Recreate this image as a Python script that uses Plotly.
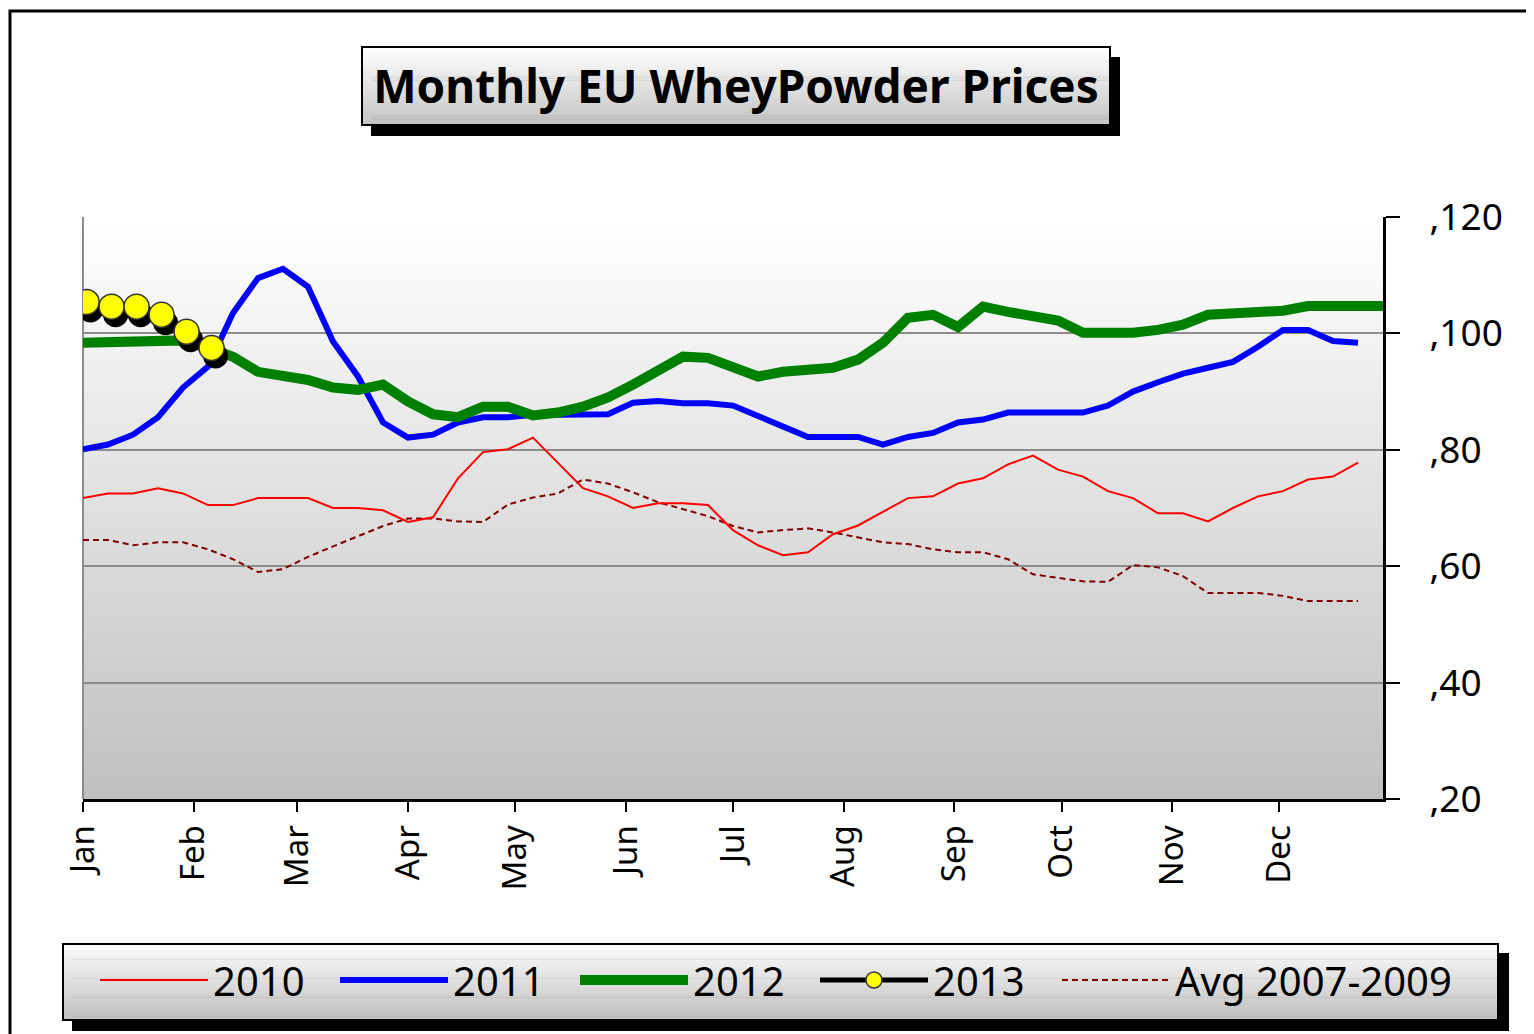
import plotly.graph_objects as go

# ---------------- data ----------------
month_labels = ["Jan", "Feb", "Mar", "Apr", "May", "Jun", "Jul", "Aug", "Sep", "Oct", "Nov", "Dec"]
month_start_day = [0, 31, 60, 91, 121, 152, 182, 213, 244, 274, 305, 335]

week_days_52 = list(range(0, 364, 7))      # 52 weekly observations
week_days_53 = list(range(0, 365, 7))      # 53 weekly observations
days_2013 = [1, 8, 15, 22, 29, 36]

y_tickvals = [20, 40, 60, 80, 100, 120]
y_ticktext = [",20", ",40", ",60", ",80", ",100", ",120"]

v2010 = [71.7, 72.5, 72.5, 73.4, 72.5, 70.5, 70.5, 71.7, 71.7, 71.7, 70.0, 70.0, 69.6, 67.6, 68.4, 75.1, 79.6, 80.1,
         82.1, 77.8, 73.4, 72.0, 70.0, 70.8, 70.8, 70.5, 66.2, 63.6, 61.9, 62.4, 65.5, 67.0, 69.3, 71.7, 72.0,
         74.2, 75.1, 77.5, 79.0, 76.6, 75.4, 72.9, 71.7, 69.1, 69.1, 67.7, 70.0, 72.0, 72.9, 74.9, 75.4, 77.8]
v2011 = [80.1, 80.9, 82.6, 85.6, 90.7, 94.3, 103.5, 109.5, 111.1, 108.0, 98.6, 92.6, 84.7, 82.1, 82.6, 84.7, 85.6, 85.6,
         86.0, 86.1, 86.1, 86.1, 88.1, 88.4, 88.0, 88.0, 87.6, 85.8, 83.8, 82.2, 82.2, 82.2, 80.9, 82.2, 82.9,
         84.7, 85.2, 86.4, 86.4, 86.4, 86.4, 87.6, 90.0, 91.6, 93.1, 94.1, 95.1, 97.7, 100.6, 100.6, 98.7, 98.4]
v2012 = [98.4, 98.4, 98.4, 98.8, 98.8, 97.5, 96.0, 93.4, 92.9, 92.0, 90.7, 90.3, 91.2, 88.3, 86.1, 85.6, 87.4, 87.4,
         85.9, 86.4, 87.4, 89.0, 91.2, 93.4, 96.0, 95.8, 94.1, 92.6, 93.4, 93.8, 94.1, 95.5, 98.4, 102.7, 103.2,
         101.1, 104.6, 103.7, 102.9, 102.2, 100.1, 100.1, 100.1, 100.6, 101.5, 103.2, 103.5, 103.9, 103.9, 104.7,
         104.7, 104.7, 104.7]
v2013 = [105.4, 104.6, 104.6, 103.2, 100.3, 97.5]
avg_2007_2009 = [64.5, 64.5, 63.6, 64.1, 64.1, 62.9, 61.2, 59.0, 59.5, 61.6, 63.4, 65.2, 66.9, 68.2, 68.2, 67.7, 67.6, 70.6,
                 71.8, 72.5, 74.9, 74.2, 72.7, 71.0, 69.8, 68.6, 66.9, 65.8, 66.2, 66.5, 65.8, 65.0, 64.1, 63.8, 62.9,
                 62.4, 62.4, 61.2, 58.6, 58.0, 57.4, 57.3, 60.2, 59.8, 58.3, 55.4, 55.4, 55.4, 54.9, 54.0, 54.0, 54.0]

# ---------------- geometry / style ----------------
OFF = 8                                   # page body margin
W, H = 1534 - OFF, 1034 - OFF
L, R, T, B = 83, 1383, 217, 799          # plot area in screen pixels
X_RANGE = [0, 364]
Y_RANGE = [20, 120]
FONT = "Comic Sans MS, Noto Sans, sans-serif"


def px(xp):
    return (xp - L) / (R - L)


def py(yp):
    return (B - yp) / (B - T)


shapes = []


def grad_rect(x0, y0, x1, y1, top, bot, n=60):
    for i in range(n):
        f = i / (n - 1)
        c = [round(top[j] + (bot[j] - top[j]) * f) for j in range(3)]
        ya = y0 + (y1 - y0) * i / n
        yb = y0 + (y1 - y0) * (i + 1) / n + 0.6
        shapes.append(dict(type="rect", xref="paper", yref="paper", layer="below",
                           x0=px(x0), x1=px(x1), y0=py(ya), y1=py(min(yb, y1)),
                           line=dict(width=0), fillcolor="rgb(%d,%d,%d)" % tuple(c)))


def solid_rect(x0, y0, x1, y1, fill):
    shapes.append(dict(type="rect", xref="paper", yref="paper", layer="below",
                       x0=px(x0), x1=px(x1), y0=py(y0), y1=py(y1),
                       line=dict(width=0), fillcolor=fill))


def frame(x0, y0, x1, y1, w):
    shapes.append(dict(type="rect", xref="paper", yref="paper", layer="below",
                       x0=px(x0), x1=px(x1), y0=py(y0), y1=py(y1),
                       line=dict(width=w, color="black"), fillcolor="rgba(0,0,0,0)"))


# outer frame
frame(10, 11, 1600, 1100, 3)
# plot area gradient
grad_rect(L, T, R, B, (255, 255, 255), (192, 192, 192), n=90)
# left grey border of the plot area
shapes.append(dict(type="line", xref="paper", yref="paper", layer="below",
                   x0=0, x1=0, y0=0, y1=1, line=dict(width=2, color="#8c8c8c")))

# title box with shadow
solid_rect(371, 57, 1120, 136, "black")
grad_rect(362, 47, 1110, 125, (255, 255, 255), (196, 196, 196), n=40)
frame(362, 47, 1110, 125, 2)

# legend box with shadow
solid_rect(72, 953, 1509, 1031, "black")
grad_rect(63, 944, 1498, 1020, (252, 252, 252), (192, 192, 192), n=40)
frame(63, 944, 1498, 1020, 2)

fig = go.Figure()

fig.add_trace(go.Scatter(x=week_days_52, y=avg_2007_2009, name="Avg 2007-2009", mode="lines",
                         legend="legend2",
                         line=dict(color="#800000", width=2, dash="6px,4px")))
fig.add_trace(go.Scatter(x=week_days_52, y=v2010, name="2010", mode="lines",
                         line=dict(color="#ff0000", width=2)))
fig.add_trace(go.Scatter(x=week_days_52, y=v2011, name="2011", mode="lines",
                         line=dict(color="#0000ff", width=6)))
fig.add_trace(go.Scatter(x=week_days_53, y=v2012, name="2012", mode="lines",
                         line=dict(color="#008000", width=10)))
# shadow of 2013 (drawn on offset overlay axes, below the 2013 trace)
fig.add_trace(go.Scatter(x=days_2013, y=v2013, name="2013 shadow", mode="lines+markers",
                         xaxis="x2", yaxis="y2", showlegend=False, hoverinfo="skip",
                         line=dict(color="black", width=7),
                         marker=dict(size=25, color="black", line=dict(width=0))))
fig.add_trace(go.Scatter(x=days_2013, y=v2013, name="2013", mode="lines+markers",
                         xaxis="x3", yaxis="y3",
                         line=dict(color="black", width=5),
                         marker=dict(size=25, color="#ffff00", line=dict(width=1.5, color="#333333"))))

legend_rank = {"2010": 1, "2011": 2, "2012": 3, "2013": 4, "Avg 2007-2009": 5}
for tr in fig.data:
    if tr.name in legend_rank:
        tr.legendrank = legend_rank[tr.name]

dx = 4 * (X_RANGE[1] - X_RANGE[0]) / (R - L)
dy = 8 * (Y_RANGE[1] - Y_RANGE[0]) / (B - T)

legend_font = dict(family=FONT, size=40, color="black")

fig.update_layout(
    width=W, height=H,
    margin=dict(l=L - OFF, r=W - (R - OFF), t=T - OFF, b=H - (B - OFF), pad=0),
    paper_bgcolor="white",
    plot_bgcolor="rgba(0,0,0,0)",
    font=dict(family=FONT, color="black"),
    shapes=shapes,
    showlegend=True,
    title=dict(text="Monthly EU WheyPowder Prices", x=(736 - OFF) / W, xanchor="center",
               y=1 - (87 - OFF) / H, yanchor="middle",
               font=dict(family=FONT, size=46, color="black", weight=700)),
    legend=dict(orientation="h", x=px(95), xanchor="left", y=py(980), yanchor="middle",
                bgcolor="rgba(0,0,0,0)", borderwidth=0, font=legend_font,
                itemwidth=108, entrywidth=117, traceorder="normal"),
    legend2=dict(orientation="h", x=px(1057), xanchor="left", y=py(980), yanchor="middle",
                 bgcolor="rgba(0,0,0,0)", borderwidth=0, font=legend_font,
                 itemwidth=108),
    xaxis=dict(range=X_RANGE, tickvals=month_start_day, ticktext=month_labels, tickangle=-90,
               showgrid=False, zeroline=False, showline=True, linecolor="black", linewidth=3,
               ticks="outside", ticklen=10, tickwidth=2, tickcolor="black",
               tickfont=dict(family=FONT, size=33, color="black")),
    yaxis=dict(range=Y_RANGE, side="right", tickvals=y_tickvals, ticktext=y_ticktext,
               showgrid=True, gridcolor="#8c8c8c", gridwidth=2, zeroline=False,
               showline=True, linecolor="black", linewidth=3,
               ticks="outside", ticklen=14, tickwidth=2, tickcolor="black",
               ticklabelstandoff=22,
               tickfont=dict(family=FONT, size=37, color="black")),
    xaxis2=dict(range=[X_RANGE[0] - dx, X_RANGE[1] - dx], overlaying="x", visible=False),
    yaxis2=dict(range=[Y_RANGE[0] + dy, Y_RANGE[1] + dy], overlaying="y", visible=False),
    xaxis3=dict(range=X_RANGE, overlaying="x", visible=False),
    yaxis3=dict(range=Y_RANGE, overlaying="y", visible=False),
)

fig.write_html("out.html")
